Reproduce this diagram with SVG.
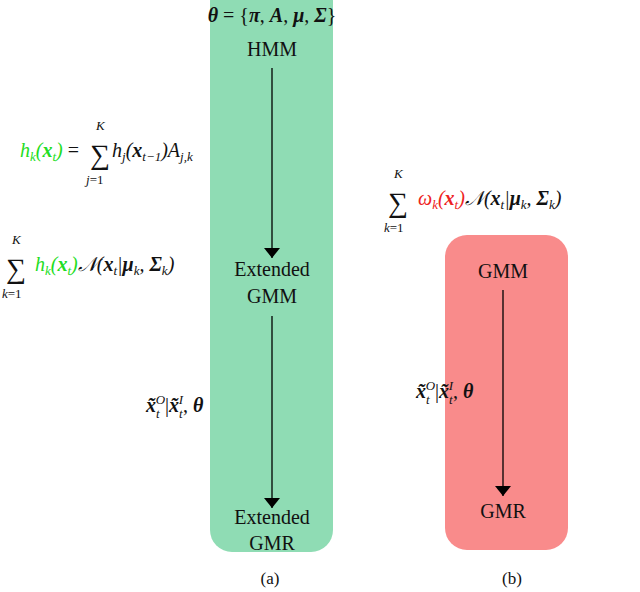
<svg xmlns="http://www.w3.org/2000/svg" width="640" height="592" viewBox="0 0 640 592">
<style>
text{font-family:"Liberation Serif","DejaVu Serif",serif;font-size:20px;fill:#111}
.b{font-weight:bold;font-style:italic}
.i{font-style:italic}
.s{font-size:13px}
.big{font-size:28px}
.g{fill:#22dd22}
.r{fill:#ee2222}
.c{text-anchor:middle}
line{stroke:#000;stroke-width:1.3}
</style>
<defs><marker id="ah" viewBox="0 0 10 16" refX="10" refY="8" markerWidth="10" markerHeight="16" markerUnits="userSpaceOnUse" orient="auto"><path d="M0,0L10,8L0,16z" fill="#000"/></marker></defs>
<g id="nodeA"><rect x="210" y="-20" width="123" height="572" rx="22" fill="#8fdcb4"/>
<text class="c" x="272" y="22"><tspan class="b">θ</tspan> = {<tspan class="b">π</tspan>, <tspan class="b">A</tspan>, <tspan class="b">μ</tspan>, <tspan class="b">Σ</tspan>}</text>
<text class="c" x="272" y="56">HMM</text>
<text class="c" x="272" y="276">Extended</text><text class="c" x="272" y="303">GMM</text>
<text class="c" x="272" y="524">Extended</text><text class="c" x="272" y="550">GMR</text></g>
<g id="nodeB"><rect x="445" y="235" width="123" height="315" rx="22" fill="#f98b8b"/>
<text class="c" x="503" y="278">GMM</text><text class="c" x="503" y="518">GMR</text></g>
<g id="connectors">
<line x1="272" y1="68" x2="272" y2="258" marker-end="url(#ah)"/>
<line x1="272" y1="316" x2="272" y2="508" marker-end="url(#ah)"/>
<line x1="503" y1="290" x2="503" y2="496" marker-end="url(#ah)"/>
</g>
<g id="labels">
<text x="20" y="157"><tspan class="i g">h<tspan class="s" dy="4">k</tspan><tspan dy="-4">(</tspan><tspan class="b">x</tspan><tspan class="s" dy="4">t</tspan><tspan dy="-4">)</tspan></tspan> = </text>
<text class="big" x="90" y="164">∑</text><text class="s i" x="96" y="130">K</text><text class="s" x="86" y="184"><tspan class="i">j</tspan>=1</text>
<text x="112" y="157" class="i">h<tspan class="s" dy="4">j</tspan><tspan dy="-4">(</tspan><tspan class="b">x</tspan><tspan class="s" dy="4">t−1</tspan><tspan dy="-4">)</tspan>A<tspan class="s" dy="4">j,k</tspan></text>
<text class="big" x="6" y="278">∑</text><text class="s i" x="12" y="244">K</text><text class="s" x="2" y="298"><tspan class="i">k</tspan>=1</text>
<text x="35" y="271" class="i"><tspan class="g">h<tspan class="s" dy="4">k</tspan><tspan dy="-4">(</tspan><tspan class="b">x</tspan><tspan class="s" dy="4">t</tspan><tspan dy="-4">)</tspan></tspan>𝒩(<tspan class="b">x</tspan><tspan class="s" dy="4">t</tspan><tspan dy="-4">|</tspan><tspan class="b">μ</tspan><tspan class="s" dy="4">k</tspan><tspan dy="-4">, </tspan><tspan class="b">Σ</tspan><tspan class="s" dy="4">k</tspan><tspan dy="-4">)</tspan></text>
<text x="146" y="412"><tspan class="b">x̃</tspan><tspan class="s i" dy="6">t</tspan><tspan class="s i" dx="-4" dy="-14">O</tspan><tspan dy="8">|</tspan><tspan class="b">x̃</tspan><tspan class="s i" dy="6">t</tspan><tspan class="s i" dx="-4" dy="-14">I</tspan><tspan dy="8">, </tspan><tspan class="b">θ</tspan></text>
<text class="big" x="388" y="212">∑</text><text class="s i" x="394" y="178">K</text><text class="s" x="384" y="232"><tspan class="i">k</tspan>=1</text>
<text x="418" y="205" class="i"><tspan class="r">ω<tspan class="s" dy="4">k</tspan><tspan dy="-4">(</tspan><tspan class="b">x</tspan><tspan class="s" dy="4">t</tspan><tspan dy="-4">)</tspan></tspan>𝒩(<tspan class="b">x</tspan><tspan class="s" dy="4">t</tspan><tspan dy="-4">|</tspan><tspan class="b">μ</tspan><tspan class="s" dy="4">k</tspan><tspan dy="-4">, </tspan><tspan class="b">Σ</tspan><tspan class="s" dy="4">k</tspan><tspan dy="-4">)</tspan></text>
<text x="416" y="398"><tspan class="b">x̃</tspan><tspan class="s i" dy="6">t</tspan><tspan class="s i" dx="-4" dy="-14">O</tspan><tspan dy="8">|</tspan><tspan class="b">x̃</tspan><tspan class="s i" dy="6">t</tspan><tspan class="s i" dx="-4" dy="-14">I</tspan><tspan dy="8">, </tspan><tspan class="b">θ</tspan></text>
<text class="c" x="270" y="584" style="font-size:17px">(a)</text>
<text class="c" x="512" y="584" style="font-size:17px">(b)</text>
</g>
</svg>
